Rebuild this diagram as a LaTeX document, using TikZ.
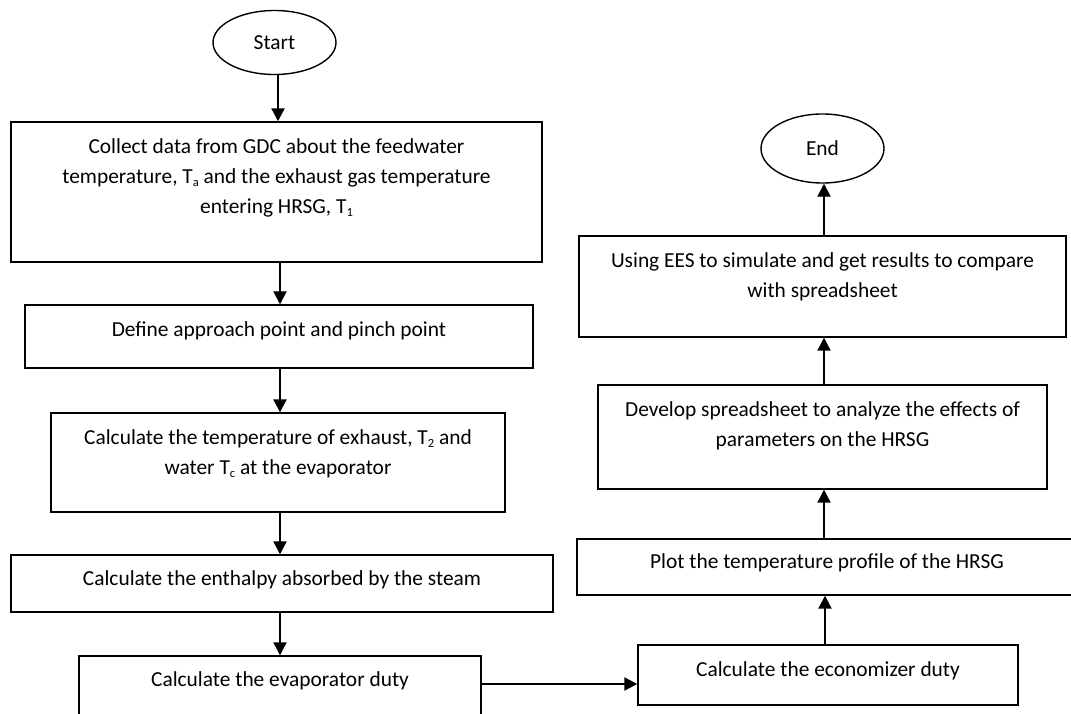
\documentclass[tikz,border=0pt]{standalone}
\usepackage{fontspec}
\setmainfont{Carlito}
\usetikzlibrary{shapes.geometric,arrows.meta}
\newcommand\lowsub[1]{\raisebox{-0.3ex}{\fontsize{12.5}{12.5}\selectfont #1}}
\begin{document}
\begin{tikzpicture}[x=1pt,y=-1pt,
  box/.style={draw=black,line width=1.4pt,rectangle,inner sep=0pt},
  term/.style={draw=black,line width=1.4pt,ellipse,inner sep=0pt},
  txt/.style={inner sep=0pt,font=\fontsize{21.4}{30}\selectfont,align=center},
  flow/.style={line width=2.2pt,-{Triangle[width=13pt,length=13pt]}}]
\useasboundingbox (0,0) rectangle (1071,714);
% left column
\node[term,minimum width=123pt,minimum height=64pt] (start) at (274.5,42.5) {};
\node[txt] at (start.center) {Start};
\node[box,minimum width=531pt,minimum height=140pt] (b1) at (276.5,192) {};
\node[txt,anchor=center] at (276.5,178) {Collect data from GDC about the feedwater\\temperature, T\lowsub{a} and the exhaust gas temperature\\entering HRSG, T\lowsub{1}};
\node[box,minimum width=508pt,minimum height=63pt] (b2) at (279,336.5) {};
\node[txt] at (279,331) {Define approach point and pinch point};
\node[box,minimum width=454pt,minimum height=99pt] (b3) at (278,462.5) {};
\node[txt] at (278,454) {Calculate the temperature of exhaust, T\lowsub{2} and\\water T\lowsub{c} at the evaporator};
\node[box,minimum width=542pt,minimum height=57pt] (b4) at (282,583.5) {};
\node[txt] at (282,580) {Calculate the enthalpy absorbed by the steam};
\node[box,minimum width=402pt,minimum height=70pt] (b5) at (280,691) {};
\node[txt] at (280,681) {Calculate the evaporator duty};
% right column
\node[box,minimum width=380pt,minimum height=60pt] (eco) at (828,675) {};
\node[txt] at (828,671) {Calculate the economizer duty};
\node[box,minimum width=500pt,minimum height=56pt] (plot) at (827,567) {};
\node[txt] at (827,563) {Plot the temperature profile of the HRSG};
\node[box,minimum width=449pt,minimum height=104pt] (dev) at (822.5,437) {};
\node[txt] at (822.5,426) {Develop spreadsheet to analyze the effects of\\parameters on the HRSG};
\node[box,minimum width=487pt,minimum height=101pt] (ees) at (822.5,286.5) {};
\node[txt] at (822.5,276.5) {Using EES to simulate and get results to compare\\with spreadsheet};
\node[term,minimum width=123pt,minimum height=69pt] (end) at (822.5,148.5) {};
\node[txt] at (end.center) {End};
% connectors
\draw[flow] (start.south -| 278,0) -- (b1.north -| 278,0);
\draw[flow] (b1.south -| 280,0) -- (b2.north -| 280,0);
\draw[flow] (b2.south -| 280,0) -- (b3.north -| 280,0);
\draw[flow] (b3.south -| 280,0) -- (b4.north -| 280,0);
\draw[flow] (b4.south -| 280,0) -- (b5.north -| 280,0);
\draw[flow] (b5.east |- 0,684) -- (eco.west |- 0,684);
\draw[flow] (eco.north -| 825,0) -- (plot.south -| 825,0);
\draw[flow] (plot.north -| 824,0) -- (dev.south -| 824,0);
\draw[flow] (dev.north -| 824,0) -- (ees.south -| 824,0);
\draw[flow] (ees.north -| 824,0) -- (end.south -| 824,0);
\end{tikzpicture}
\end{document}
